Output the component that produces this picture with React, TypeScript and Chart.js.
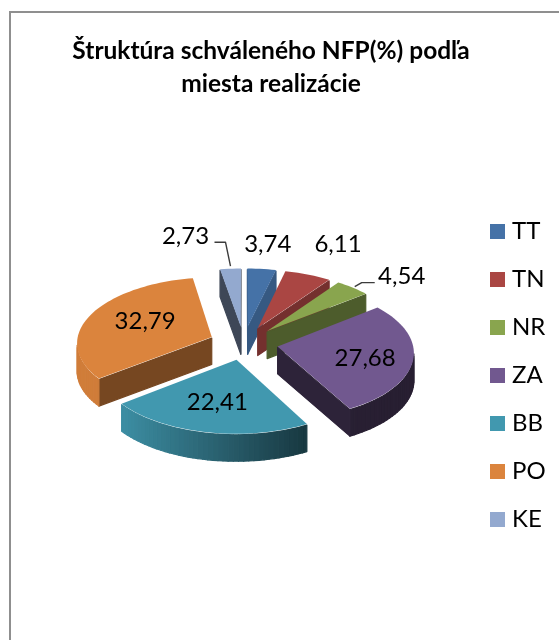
import React, { useEffect, useRef } from "react";
import { Chart, registerables } from "chart.js";

Chart.register(...registerables);

const categories = ["TT", "TN", "NR", "ZA", "BB", "PO", "KE"];
const shares = [3.74, 6.11, 4.54, 27.68, 22.41, 32.79, 2.73];
const shareLabels = ["3,74", "6,11", "4,54", "27,68", "22,41", "32,79", "2,73"];
const titleLines = ["Štruktúra schváleného NFP(%) podľa", "miesta realizácie"];
const colors = ["#4572A7", "#AA4643", "#89A54E", "#71588F", "#4198AF", "#DB843D", "#93A9CF"];

// Styling of the 3D look
const radialWallShade = [0.78, 0.68, 0.56, 0.4, 0.4, 0.54, 0.42];
const labelNudge: [number, number][] = [[6, -25], [30, -30], [49, -11], [-48, -2], [12, -30], [54, 7], [-45, -32.5]];
const leaders: Record<number, [number, number][]> = {
  2: [[-27, 6], [-40, 6], [-47, 10]],
  6: [[29, 6], [40, 6], [45, 30]],
};
const RADIUS = 135;
const EXPLODE = 34.5;
const TILT = 0.484;
const PERSPECTIVE = 0.08;
const DEPTH = 28;
const FONT = "Lato, Carlito, sans-serif";
const LEGEND_PAD = 24;
const SWATCH = 15;
const POINT_W = 5;

const shade = (hex: string, f: number) => {
  const n = parseInt(hex.slice(1), 16);
  const c = [(n >> 16) & 255, (n >> 8) & 255, n & 255].map((v) => Math.round(v * f));
  return `rgb(${c[0]},${c[1]},${c[2]})`;
};

const swatch = (color: string) => {
  const c = document.createElement("canvas");
  c.width = SWATCH;
  c.height = SWATCH;
  const g = c.getContext("2d")!;
  g.fillStyle = color;
  g.fillRect(0, 0, SWATCH, SWATCH);
  return c;
};

const pie3d = {
  id: "pie3d",
  beforeDraw(chart: any) {
    const { ctx } = chart;
    ctx.save();
    ctx.fillStyle = "#ffffff";
    ctx.fillRect(0, 0, chart.width, chart.height);
    ctx.strokeStyle = "#8f8f8f";
    ctx.lineWidth = 2;
    ctx.strokeRect(10, 12, chart.width + 20, chart.height + 20);
    ctx.restore();
  },
  afterLayout(chart: any) {
    const t = chart.titleBlock;
    const shift = 271 - (t.left + t.right) / 2;
    t.left += shift;
    t.right += shift;
    const l = chart.legend;
    l.left = 490 - (LEGEND_PAD + POINT_W / 2 - SWATCH / 2);
    l.top = 231.5 - 12 - LEGEND_PAD;
  },
  beforeDatasetsDraw(chart: any) {
    const { ctx } = chart;
    const arcs: any[] = chart.getDatasetMeta(0).data;
    const project = (a: any, px: number, py: number) => {
      const u = (px - a.x) / a.outerRadius;
      const v = (py - a.y) / a.outerRadius;
      const k = 1 / (1 - PERSPECTIVE * v);
      return { x: a.x + a.outerRadius * u * k, y: a.y + a.outerRadius * TILT * v * k, v };
    };
    const shape = (a: any) => {
      const mid = (a.startAngle + a.endAngle) / 2;
      const off = a.options.offset;
      const tx = a.x + Math.cos(mid) * off;
      const ty = a.y + Math.sin(mid) * off;
      const pts = [project(a, tx, ty)];
      const n = Math.max(2, Math.ceil(((a.endAngle - a.startAngle) * 180) / Math.PI / 2));
      for (let i = 0; i <= n; i++) {
        const t = a.startAngle + ((a.endAngle - a.startAngle) * i) / n;
        pts.push(project(a, tx + Math.cos(t) * a.outerRadius, ty + Math.sin(t) * a.outerRadius));
      }
      return { pts, n, mid };
    };
    const order = arcs
      .map((a, i) => ({ a, i, s: shape(a) }))
      .sort((p, q) => Math.sin(p.s.mid) - Math.sin(q.s.mid));

    ctx.save();
    for (const { a, i, s } of order) {
      const base = a.options.backgroundColor;
      const { pts, n } = s;
      const count = pts.length;
      for (let j = 0; j < count; j++) {
        const p = pts[j];
        const q = pts[(j + 1) % count];
        if (q.x - p.x >= 0) continue;
        let f = radialWallShade[i];
        if (j >= 1 && j < count - 1) {
          const t = a.startAngle + ((a.endAngle - a.startAngle) * (j - 0.5)) / n;
          const side = Math.cos(t);
          f = Math.min(0.95, Math.max(0.35, 0.58 - 0.45 * side));
        }
        const col = shade(base, f);
        ctx.fillStyle = col;
        ctx.strokeStyle = col;
        ctx.lineWidth = 1.2;
        ctx.lineJoin = "round";
        ctx.beginPath();
        ctx.moveTo(p.x, p.y + 1);
        ctx.lineTo(q.x, q.y + 1);
        ctx.lineTo(q.x, q.y + DEPTH - 0.5);
        ctx.lineTo(p.x, p.y + DEPTH - 0.5);
        ctx.closePath();
        ctx.fill();
        ctx.stroke();
      }
      ctx.fillStyle = base;
      ctx.beginPath();
      pts.forEach((p: any, j: number) => (j ? ctx.lineTo(p.x, p.y) : ctx.moveTo(p.x, p.y)));
      ctx.closePath();
      ctx.fill();
    }

    ctx.fillStyle = "#000000";
    ctx.font = `24px ${FONT}`;
    ctx.textAlign = "center";
    ctx.textBaseline = "middle";
    arcs.forEach((a, i) => {
      const mid = (a.startAngle + a.endAngle) / 2;
      const rr = a.outerRadius + a.options.offset;
      const p = project(a, a.x + Math.cos(mid) * rr, a.y + Math.sin(mid) * rr);
      const lx = p.x + labelNudge[i][0];
      const ly = p.y + labelNudge[i][1];
      ctx.fillText(shareLabels[i], lx, ly);
      const lead = leaders[i];
      if (lead) {
        ctx.strokeStyle = "#3c3c3c";
        ctx.lineWidth = 1.4;
        ctx.beginPath();
        lead.forEach(([dx, dy], j) => (j ? ctx.lineTo(lx + dx, ly + dy) : ctx.moveTo(lx + dx, ly + dy)));
        ctx.stroke();
      }
    });
    ctx.restore();
    return false;
  },
};

export default function App() {
  const ref = useRef<HTMLCanvasElement>(null);
  useEffect(() => {
    const chart = new Chart(ref.current!, {
      type: "pie",
      data: {
        labels: categories,
        datasets: [{ data: shares, backgroundColor: colors, borderWidth: 0, offset: EXPLODE }],
      },
      options: {
        animation: false,
        responsive: false,
        radius: RADIUS,
        layout: { padding: { left: 13, right: 0, top: 0, bottom: 55 } },
        plugins: {
          tooltip: { enabled: false },
          title: {
            display: true,
            text: titleLines,
            color: "#000000",
            font: { family: FONT, size: 24.5, weight: "bold", lineHeight: 1.347 },
            padding: { top: 35, bottom: 0 },
          },
          legend: {
            position: "right",
            align: "start",
            labels: {
              color: "#000000",
              font: { family: FONT, size: 24 },
              padding: LEGEND_PAD,
              boxHeight: SWATCH,
              usePointStyle: true,
              pointStyleWidth: POINT_W,
              generateLabels: (c: any) =>
                (Chart as any).overrides.pie.plugins.legend.labels
                  .generateLabels(c)
                  .map((item: any, i: number) => ({ ...item, pointStyle: swatch(colors[i]) })),
            },
          },
        },
      } as any,
      plugins: [pie3d as any],
    });
    return () => chart.destroy();
  }, []);
  return (
    <div style={{ position: "absolute", left: 0, top: 0, width: 559, height: 640, overflow: "hidden" }}>
      <canvas ref={ref} width={559} height={640} />
    </div>
  );
}
